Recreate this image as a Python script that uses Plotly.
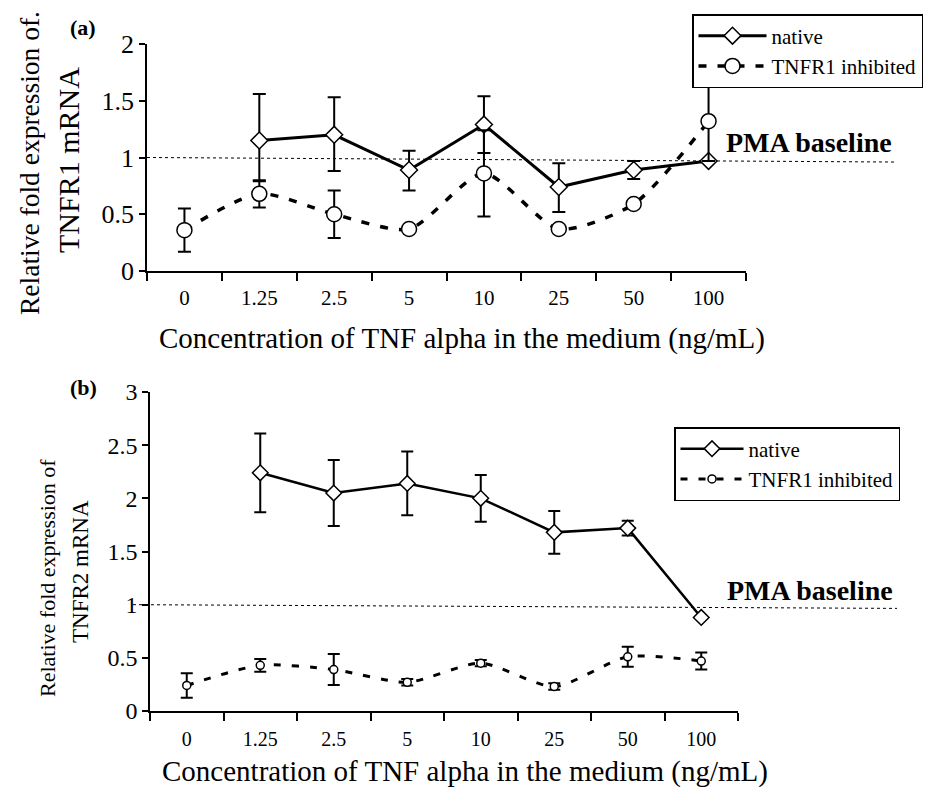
import plotly.graph_objects as go

# ---------------- data ----------------
categories = ["0", "1.25", "2.5", "5", "10", "25", "50", "100"]

# Panel (a): TNFR1 mRNA
a_native = [None, 1.15, 1.20, 0.89, 1.29, 0.74, 0.89, 0.97]
a_native_err_plus = [0, 0.41, 0.33, 0.17, 0.25, 0.21, 0.08, 0.0]
a_native_err_minus = [0, 0.36, 0.32, 0.18, 0.25, 0.22, 0.08, 0.0]
a_inhib = [0.36, 0.68, 0.50, 0.37, 0.86, 0.37, 0.59, 1.32]
a_inhib_err = [0.19, 0.12, 0.21, 0.02, 0.38, 0.03, 0.03, 0.35]

# Panel (b): TNFR2 mRNA
b_native = [None, 2.24, 2.05, 2.14, 2.00, 1.68, 1.72, 0.88]
b_native_err = [0, 0.37, 0.31, 0.30, 0.22, 0.20, 0.07, 0.0]
b_inhib = [0.24, 0.43, 0.39, 0.27, 0.45, 0.23, 0.51, 0.47]
b_inhib_err = [0.115, 0.06, 0.145, 0.03, 0.03, 0.03, 0.095, 0.08]

baseline_value = 1.0

W, H = 925, 787
SERIF = "Liberation Serif"

def px_x(p):
    return p / W

def px_y(p):
    return 1 - p / H

fig = go.Figure()

fig.add_trace(go.Scatter(
    x=categories, y=a_native, mode="lines+markers", name="native",
    line=dict(color="black", width=3),
    marker=dict(symbol="diamond", size=13, color="white", line=dict(color="black", width=1.5)),
    error_y=dict(type="data", array=a_native_err_plus, arrayminus=a_native_err_minus,
                 symmetric=False, color="black", thickness=2, width=6.5),
    xaxis="x", yaxis="y", legend="legend", connectgaps=False,
))
fig.add_trace(go.Scatter(
    x=categories, y=a_inhib, mode="lines+markers", name="TNFR1 inhibited",
    line=dict(color="black", width=3.5, dash="8px,11px", shape="spline", smoothing=0.7),
    marker=dict(symbol="circle", size=15, color="white", line=dict(color="black", width=1.5)),
    error_y=dict(type="data", array=a_inhib_err, color="black", thickness=2, width=6.5),
    xaxis="x", yaxis="y", legend="legend",
))
fig.add_trace(go.Scatter(
    x=categories, y=b_native, mode="lines+markers", name="native",
    line=dict(color="black", width=2.5),
    marker=dict(symbol="diamond", size=12, color="white", line=dict(color="black", width=1.5)),
    error_y=dict(type="data", array=b_native_err, color="black", thickness=2, width=6),
    xaxis="x2", yaxis="y2", legend="legend2",
))
fig.add_trace(go.Scatter(
    x=categories, y=b_inhib, mode="lines+markers", name="TNFR1 inhibited",
    line=dict(color="black", width=3, dash="7px,11px", shape="spline", smoothing=0.7),
    marker=dict(symbol="circle", size=8, color="white", line=dict(color="black", width=1.5)),
    error_y=dict(type="data", array=b_inhib_err, color="black", thickness=2, width=6),
    xaxis="x2", yaxis="y2", legend="legend2",
))

xcommon = dict(
    type="category", categoryorder="array", categoryarray=categories,
    range=[-0.5, len(categories) - 0.5], showline=True, linecolor="black", linewidth=1.5,
    ticks="outside", tickson="boundaries", ticklen=8, tickcolor="black", tickwidth=1.5,
    showgrid=False, zeroline=False, fixedrange=True, automargin=False,
)
ycommon = dict(
    showline=True, linecolor="black", linewidth=1.5, ticks="outside", ticklen=6,
    tickcolor="black", tickwidth=1.5, showgrid=False, zeroline=False, fixedrange=True,
    automargin=False,
)

fig.update_layout(
    width=W, height=H, autosize=False,
    margin=dict(l=0, r=0, t=0, b=0, pad=0, autoexpand=False),
    paper_bgcolor="white", plot_bgcolor="white",
    font=dict(family=SERIF, color="black"),
    xaxis=dict(xcommon, domain=[px_x(147), px_x(746)], anchor="y",
               tickfont=dict(size=21, family=SERIF), ticklabelstandoff=7),
    yaxis=dict(ycommon, domain=[px_y(271), px_y(44)], anchor="x", range=[0, 2],
               tickvals=[0, 0.5, 1, 1.5, 2], ticktext=["0", "0.5", "1", "1.5", "2"],
               tickfont=dict(size=26, family=SERIF)),
    xaxis2=dict(xcommon, domain=[px_x(150), px_x(738)], anchor="y2",
                tickfont=dict(size=20, family=SERIF), ticklabelstandoff=9),
    yaxis2=dict(ycommon, domain=[px_y(711), px_y(392)], anchor="x2", range=[0, 3],
                tickvals=[0, 0.5, 1, 1.5, 2, 2.5, 3],
                ticktext=["0", "0.5", "1", "1.5", "2", "2.5", "3"],
                tickfont=dict(size=24, family=SERIF)),
    legend=dict(x=px_x(692), y=px_y(14), xanchor="left", yanchor="top",
                bordercolor="black", borderwidth=1.5, bgcolor="white",
                font=dict(size=21, family=SERIF), itemwidth=68,
                tracegroupgap=0, itemclick=False, itemdoubleclick=False),
    legend2=dict(x=px_x(674), y=px_y(427), xanchor="left", yanchor="top",
                 bordercolor="black", borderwidth=1.5, bgcolor="white",
                 font=dict(size=21, family=SERIF), itemwidth=63,
                 tracegroupgap=0, itemclick=False, itemdoubleclick=False),
    showlegend=True,
)

fig.add_shape(type="line", xref="paper", yref="y", x0=px_x(147), x1=px_x(895),
              y0=baseline_value, y1=baseline_value - 0.04,
              line=dict(color="black", width=1, dash="dot"), layer="below")
fig.add_shape(type="line", xref="paper", yref="y2", x0=px_x(133), x1=px_x(897),
              y0=baseline_value, y1=baseline_value - 0.035,
              line=dict(color="black", width=1, dash="dot"), layer="below")

ann = []
def add_text(text, x, y, size, bold=False, angle=0):
    ann.append(dict(text=f"<b>{text}</b>" if bold else text, x=px_x(x), y=px_y(y),
                    xref="paper", yref="paper", xanchor="center", yanchor="middle",
                    showarrow=False, textangle=angle,
                    font=dict(size=size, family=SERIF, color="black")))

add_text("(a)", 83, 28, 22, bold=True)
add_text("(b)", 83, 387, 22, bold=True)
add_text("PMA baseline", 809, 143, 28, bold=True)
add_text("PMA baseline", 810, 590, 28, bold=True)
add_text("Concentration of TNF alpha in the medium (ng/mL)", 462, 338, 29)
add_text("Concentration of TNF alpha in the medium (ng/mL)", 465, 771, 29)
add_text("Relative fold expression of.", 30, 163, 27.5, angle=-90)
add_text("TNFR1 mRNA", 69, 160, 30, angle=-90)
add_text("Relative fold expression of", 47, 578, 22, angle=-90)
add_text("TNFR2 mRNA", 80, 572, 23, angle=-90)

fig.update_layout(annotations=ann)

fig.write_html(
    "out.html",
    config={"displayModeBar": False},
    post_script="document.body.style.margin='0';document.body.style.overflow='hidden';",
)
